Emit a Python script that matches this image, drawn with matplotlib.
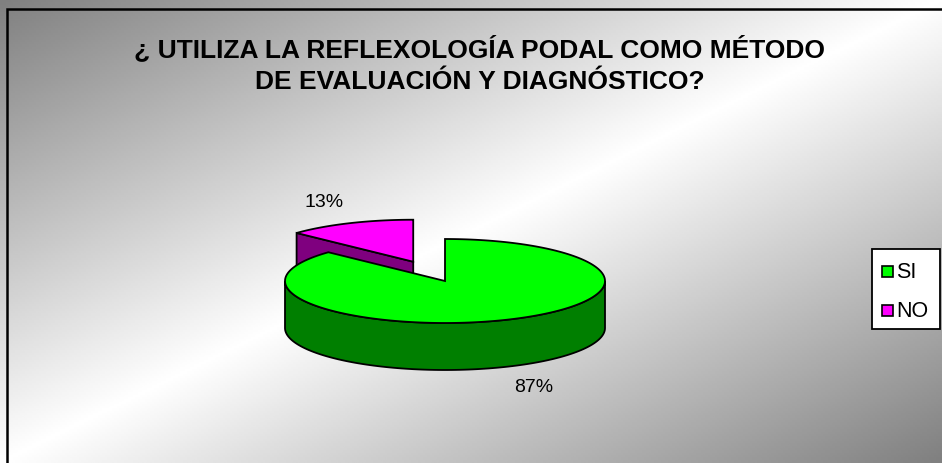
import numpy as np
import matplotlib
matplotlib.use("Agg")
import matplotlib.pyplot as plt
from matplotlib.patches import Polygon, Rectangle

plt.rcParams['font.family'] = ['Liberation Sans', 'DejaVu Sans']

# datos del grafico
categories = ['SI', 'NO']
values = [87, 13]
pct_labels = ['87%', '13%']
explode = [0.0, 0.5]
top_colors = ['#00FF00', '#FF00FF']
side_colors = ['#007F00', '#7F007F']
title = '¿ UTILIZA LA REFLEXOLOGÍA PODAL COMO MÉTODO\nDE EVALUACIÓN Y DIAGNÓSTICO?'

W, H = 942, 464
fig = plt.figure(figsize=(W / 100, H / 100), dpi=100)
ax = fig.add_axes([0, 0, 1, 1])
ax.set_xlim(0, W)
ax.set_ylim(H, 0)
ax.axis('off')

# fondo degradado diagonal (gris - blanco - gris)
xx, yy = np.meshgrid(np.linspace(0, 1, 400), np.linspace(0, 1, 200))
t = (xx + yy) / 2
g = 1 - 0.5 * np.abs(2 * t - 1)
ax.imshow(g, cmap='gray', vmin=0, vmax=1, extent=[0, W, H, 0], aspect='auto', zorder=0)

# borde del area del grafico
ax.plot([7, 7, W], [H, 10, 10], color='black', lw=1.8, zorder=1, solid_joinstyle='miter')

# geometria del pastel 3D (pixeles)
cx, cy = 445, 282
a, b = 160, 42
depth = 47

def pt(theta, r=1.0, ox=0.0, oy=0.0, dz=0.0):
    th = np.radians(theta)
    return cx + ox + a * r * np.cos(th), cy + oy - b * r * np.sin(th) + dz

# angulos: NO empieza a las 12 en sentido antihorario, SI ocupa el resto
frac = np.array(values, dtype=float) / sum(values)
spans = {}
start = 90.0
for i in [1, 0]:
    spans[i] = (start, start + 360 * frac[i])
    start += 360 * frac[i]

order = sorted(range(len(values)), key=lambda i: -np.sin(np.radians(sum(spans[i]) / 2)))
z = 2
for i in order:
    t1, t2 = spans[i]
    mid = np.radians((t1 + t2) / 2)
    ox = explode[i] * a * np.cos(mid)
    oy = -explode[i] * b * np.sin(mid)
    apex = (cx + ox, cy + oy)
    # pared exterior visible (parte frontal)
    lo, hi = max(t1, 180), min(t2, 360)
    if hi > lo:
        th = np.linspace(lo, hi, 120)
        top = [pt(v, 1, ox, oy) for v in th]
        bot = [pt(v, 1, ox, oy, depth) for v in th[::-1]]
        ax.add_patch(Polygon(top + bot, closed=True, fc=side_colors[i], ec='black', lw=1.3, zorder=z))
        z += 1
    # caras radiales visibles
    for edge, nrm in [(t1, t1 - 90), (t2, t2 + 90)]:
        if np.sin(np.radians(nrm)) < -1e-6:
            p_top = pt(edge, 1, ox, oy)
            p_bot = pt(edge, 1, ox, oy, depth)
            poly = [apex, p_top, p_bot, (apex[0], apex[1] + depth)]
            ax.add_patch(Polygon(poly, closed=True, fc=side_colors[i], ec='black', lw=1.3, zorder=z))
            z += 1
    # cara superior
    th = np.linspace(t1, t2, 200)
    poly = [apex] + [pt(v, 1, ox, oy) for v in th]
    ax.add_patch(Polygon(poly, closed=True, fc=top_colors[i], ec='black', lw=1.3, zorder=z))
    z += 1
    # etiqueta de porcentaje
    r_lab = explode[i] + 1.4
    lx = cx + a * r_lab * np.cos(mid)
    ly = cy - b * r_lab * np.sin(mid) + (depth + 5 if np.sin(mid) < 0 else -6)
    ax.text(lx, ly, pct_labels[i], ha='center', va='center', fontsize=14, color='black', zorder=20)

ax.text(480, 65, title, ha='center', va='center', fontsize=19, fontweight='bold',
        linespacing=1.42, color='black', zorder=20)

# leyenda
ax.add_patch(Rectangle((872, 250), 68, 80, fc='white', ec='black', lw=1.3, zorder=20))
for k, name in enumerate(categories):
    yc = 272 + 39 * k
    ax.add_patch(Rectangle((882, yc - 5.5), 11, 11, fc=top_colors[k], ec='black', lw=1.2, zorder=21))
    ax.text(896, yc + 1, name, ha='left', va='center', fontsize=15.5, color='black', zorder=21)

fig.savefig('out.png', dpi=100)
